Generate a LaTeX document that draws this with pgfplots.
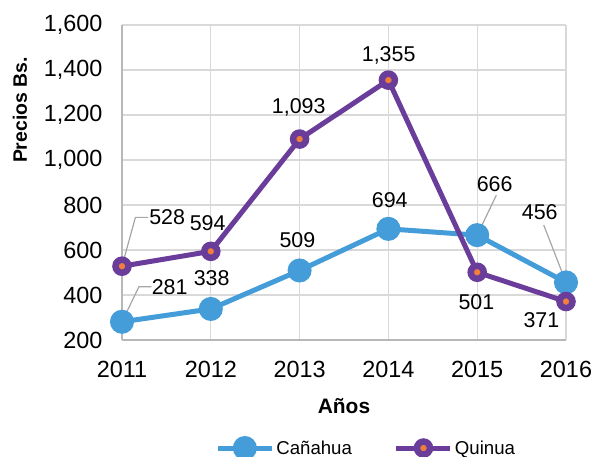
\documentclass[border=0pt]{standalone}
\usepackage{pgfplots}
\pgfplotsset{compat=1.18}
\usepackage{fontspec}
\setmainfont{Liberation Sans}
\definecolor{cblue}{HTML}{449DD8}
\definecolor{cpurple}{HTML}{6A3D9A}
\definecolor{corange}{HTML}{F07F3C}
\definecolor{cgrid}{HTML}{D9D9D9}
\definecolor{clead}{HTML}{A6A6A6}

\begin{document}
\begin{tikzpicture}
\path[use as bounding box] (-122bp,-117bp) rectangle (475bp,340bp);
\begin{axis}[
  at={(0,0)},anchor=south west,
  scale only axis,width=444bp,height=315bp,
  xmin=2011,xmax=2016,ymin=200,ymax=1600,
  xtick={2011,2012,2013,2014,2015,2016},
  xticklabels={2011,2012,2013,2014,2015,2016},
  ytick={200,400,...,1600},
  /pgf/number format/assume math mode=true,
  /pgf/number format/1000 sep={,},
  ticklabel style={font=\fontsize{23.5}{27}\selectfont},
  yticklabel style={xshift=-16bp},
  xticklabel style={yshift=-18bp},
  tick style={draw=none},
  axis lines*=left,
  axis line style={color=cgrid!85!black,line width=1.3bp},
  grid=major,major grid style={color=cgrid,line width=1.3bp},
  xlabel={\textbf{Años}},
  ylabel={\textbf{Precios Bs.}},
  xlabel style={font=\fontsize{21}{24}\selectfont,at={(axis description cs:0.5,-0.2095)},anchor=center},
  ylabel style={font=\fontsize{19.5}{22}\selectfont,at={(axis description cs:-0.23,0.73)},anchor=center,rotate=0},
  legend style={draw=none,fill=none,font=\fontsize{18.7}{21}\selectfont,
    at={(axis description cs:0.55,-0.343)},anchor=center,
    /tikz/every even column/.append style={column sep=40bp}},
  legend columns=2,
  legend image code/.code={\draw[mark repeat=2,mark phase=2] plot coordinates {(0bp,0bp) (27bp,0bp) (54bp,0bp)};},
  clip=false,
]
\addplot[cblue,line width=5bp,mark=*,mark size=9.5bp,mark options={fill=cblue,draw=none}] coordinates {
  (2011,281)(2012,338)(2013,509)(2014,694)(2015,666)(2016,456)};
\addlegendentry{Cañahua}
\addplot[cpurple,line width=5bp,mark=*,mark size=6.5bp,mark options={fill=corange,draw=cpurple,line width=6.5bp}] coordinates {
  (2011,528)(2012,594)(2013,1093)(2014,1355)(2015,501)(2016,371)};
\addlegendentry{Quinua}

% leader lines
\draw[clead,line width=1.2bp] (axis cs:2011,528) -- (axis cs:2011.151,745) -- (axis cs:2011.293,745);
\draw[clead,line width=1.2bp] (axis cs:2011,281) -- (axis cs:2011.191,437) -- (axis cs:2011.331,437);
\draw[clead,line width=1.2bp] (axis cs:2015,666) -- (axis cs:2015.216,844);
\draw[clead,line width=1.2bp] (axis cs:2016,456) -- (axis cs:2015.749,711);

% data labels
\begin{scope}[every node/.style={font=\fontsize{21.5}{25}\selectfont,inner sep=0pt}]
\node at (axis cs:2011.509,747) {528};
\node at (axis cs:2011.537,437) {281};
\node at (axis cs:2011.965,720) {594};
\node at (axis cs:2012.010,476) {338};
\node at (axis cs:2012.975,644) {509};
\node at (axis cs:2012.990,1236) {1,093};
\node at (axis cs:2014.003,1467) {1,355};
\node at (axis cs:2014.015,822) {694};
\node at (axis cs:2015.197,893) {666};
\node at (axis cs:2015.704,770) {456};
\node at (axis cs:2014.991,370) {501};
\node at (axis cs:2015.723,289) {371};
\end{scope}
\end{axis}
\end{tikzpicture}
\end{document}
